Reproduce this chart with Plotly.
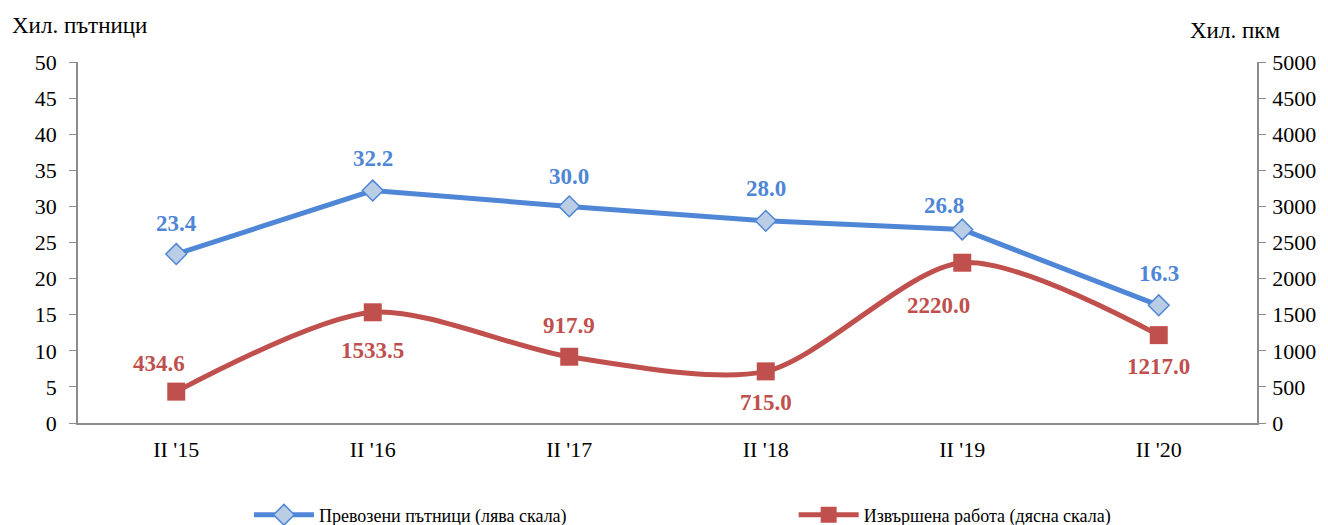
import plotly.graph_objects as go

categories = ["II '15", "II '16", "II '17", "II '18", "II '19", "II '20"]
passengers = [23.4, 32.2, 30.0, 28.0, 26.8, 16.3]
work = [434.6, 1533.5, 917.9, 715.0, 2220.0, 1217.0]

# label offsets (pixels) for the value labels
pass_shift = [(0, 31), (0, 32), (0, 30), (0, 32), (-18, 24), (0, 32)]
work_shift = [(-17, 28), (0, -38), (0, 31), (0, -31), (-24, -43), (0, -31)]

blue = "#4F86D6"
red = "#C0504D"
font = "Liberation Serif"

fig = go.Figure()
fig.add_trace(go.Scatter(
    x=categories, y=passengers, name="Превозени пътници (лява скала)",
    mode="lines+markers", line=dict(color=blue, width=5),
    marker=dict(symbol="diamond", size=16, color="#B9CDE5", line=dict(color=blue, width=1.5)),
    yaxis="y", legend="legend",
))
fig.add_trace(go.Scatter(
    x=categories, y=work, name="Извършена работа (дясна скала)",
    mode="lines+markers", line=dict(color=red, width=5, shape="spline", smoothing=0.8),
    marker=dict(symbol="square", size=18, color=red),
    yaxis="y2", legend="legend2",
))

annotations = []
for c, v, (dx, dy) in zip(categories, passengers, pass_shift):
    annotations.append(dict(x=c, y=v, xref="x", yref="y", text=f"{v:.1f}", showarrow=False,
                            xshift=dx, yshift=dy,
                            font=dict(family=font, size=23, color=blue, weight="bold")))
for c, v, (dx, dy) in zip(categories, work, work_shift):
    annotations.append(dict(x=c, y=v, xref="x", yref="y2", text=f"{v:.1f}", showarrow=False,
                            xshift=dx, yshift=dy,
                            font=dict(family=font, size=23, color=red, weight="bold")))
annotations += [
    dict(text="Хил. пътници", xref="paper", yref="paper", x=-0.058, y=1.1,
         xanchor="left", yanchor="middle", showarrow=False, font=dict(size=23)),
    dict(text="Хил. пкм", xref="paper", yref="paper", x=1.021, y=1.086,
         xanchor="right", yanchor="middle", showarrow=False, font=dict(size=23)),
]

fig.update_layout(
    width=1320, height=517,
    margin=dict(l=70, r=71, t=54, b=102, autoexpand=False),
    paper_bgcolor="white", plot_bgcolor="white",
    font=dict(family=font, size=22, color="black"),
    xaxis=dict(range=[-0.5, 5.5], showline=True, linecolor="#8C8C8C", linewidth=1.5,
               ticks="", showgrid=False, tickfont=dict(size=22), ticklabelstandoff=6),
    yaxis=dict(range=[0, 50], dtick=5, showline=True, linecolor="#8C8C8C", linewidth=1.5,
               ticks="outside", ticklen=7, tickcolor="#8C8C8C", showgrid=False, zeroline=False,
               tickfont=dict(size=22), ticklabelstandoff=8),
    yaxis2=dict(range=[0, 5000], dtick=500, overlaying="y", side="right", showline=True,
                linecolor="#8C8C8C", linewidth=1.5, ticks="outside", ticklen=7, tickcolor="#8C8C8C",
                showgrid=False, zeroline=False, tickfont=dict(size=22), ticklabelstandoff=2),
    showlegend=True,
    legend=dict(orientation="h", x=0.145, xanchor="left", y=-0.255, yanchor="middle",
                font=dict(size=18), itemwidth=60),
    legend2=dict(orientation="h", x=0.607, xanchor="left", y=-0.255, yanchor="middle",
                 font=dict(size=18), itemwidth=60),
    annotations=annotations,
)

fig.write_html("out.html")
